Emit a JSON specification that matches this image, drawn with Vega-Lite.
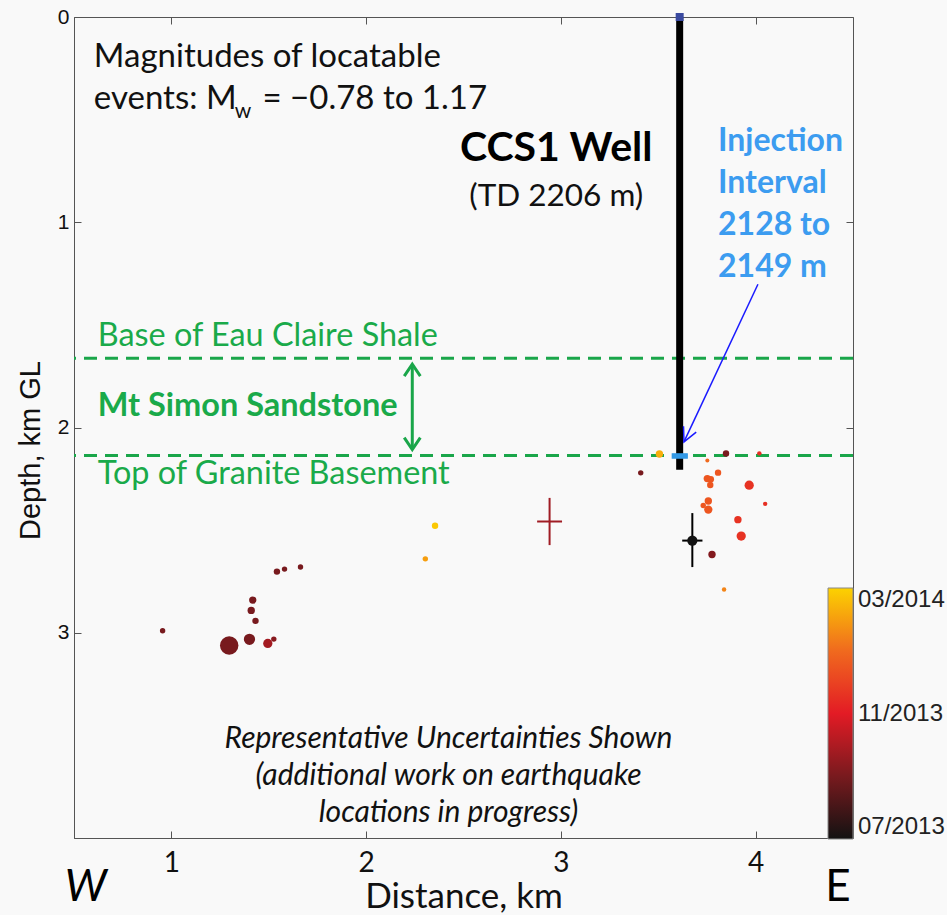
{
  "$schema": "https://vega.github.io/schema/vega-lite/v6.json",
  "width": 779,
  "height": 821,
  "autosize": {"type": "none"},
  "padding": {"left": 74, "top": 17, "right": 94, "bottom": 77},
  "background": "#f9f9f9",
  "config": {
    "view": {"stroke": "#555555", "strokeWidth": 1},
    "axis": {"grid": false, "domainColor": "#555555", "tickColor": "#555555", "labelColor": "#111111", "titleColor": "#111111"}
  },
  "resolve": {"axis": {"x": "independent", "y": "independent"}},
  "layer": [
    {
      "layer": [
        {
          "data": {"values": [{"depth": 1.663, "name": "Base of Eau Claire Shale"}, {"depth": 2.137, "name": "Top of Granite Basement"}]},
          "mark": {"type": "rule", "color": "#1aa64a", "strokeWidth": 3, "strokeDash": [13, 8]},
          "encoding": {
            "y": {"field": "depth", "type": "quantitative", "scale": {"domain": [0, 4], "reverse": true, "nice": false, "zero": false},
              "axis": {"orient": "left", "values": [0, 1, 2, 3], "format": "d", "tickSize": -7, "labelPadding": 12, "labelFont": "Liberation Sans", "labelFontSize": 21,
                "title": "Depth, km GL", "titleFont": "Liberation Sans", "titleFontSize": 29, "titleFontWeight": "normal", "titlePadding": 12, "titleY": 433}}
          }
        },
        {
          "data": {"values": [{"x": 3.61, "y": 0, "y2": 2.206}]},
          "mark": {"type": "rule", "color": "#000000", "strokeWidth": 7},
          "encoding": {
            "x": {"field": "x", "type": "quantitative", "scale": {"domain": [0.5, 4.5], "nice": false, "zero": false},
              "axis": {"orient": "bottom", "values": [1, 2, 3, 4], "format": "d", "tickSize": -7, "labelPadding": 18, "labelFont": "Lato", "labelFontSize": 28,
                "title": "Distance, km", "titleFont": "Lato", "titleFontSize": 35, "titleFontWeight": "normal", "titlePadding": 2}},
            "y": {"field": "y", "type": "quantitative"},
            "y2": {"field": "y2"}
          }
        },
        {
          "data": {"values": [{"x": 3.61, "y": 0}]},
          "mark": {"type": "point", "shape": "square", "filled": true, "color": "#3a4aa0", "size": 64, "opacity": 1},
          "encoding": {"x": {"field": "x", "type": "quantitative"}, "y": {"field": "y", "type": "quantitative"}}
        },
        {
          "data": {"values": [{"x": 3.572, "x2": 3.649, "top": 2.128, "bottom": 2.149}]},
          "mark": {"type": "rect", "color": "#3399e6", "stroke": "#3399e6", "strokeWidth": 1.2},
          "encoding": {"x": {"field": "x", "type": "quantitative"}, "x2": {"field": "x2"}, "y": {"field": "top", "type": "quantitative"}, "y2": {"field": "bottom"}}
        },
        {
          "data": {"values": [{"x": 2.237, "y": 1.70, "y2": 2.10}]},
          "mark": {"type": "rule", "color": "#1aa64a", "strokeWidth": 3},
          "encoding": {"x": {"field": "x", "type": "quantitative"}, "y": {"field": "y", "type": "quantitative"}, "y2": {"field": "y2"}}
        },
        {
          "data": {"values": [{"x": 2.237, "y": 1.691}]},
          "mark": {"type": "point", "shape": "M-0.67,1L0,0L0.67,1", "filled": false, "color": "#1aa64a", "strokeWidth": 3, "size": 576, "opacity": 1},
          "encoding": {"x": {"field": "x", "type": "quantitative"}, "y": {"field": "y", "type": "quantitative"}}
        },
        {
          "data": {"values": [{"x": 2.237, "y": 2.108}]},
          "mark": {"type": "point", "shape": "M-0.67,-1L0,0L0.67,-1", "filled": false, "color": "#1aa64a", "strokeWidth": 3, "size": 576, "opacity": 1},
          "encoding": {"x": {"field": "x", "type": "quantitative"}, "y": {"field": "y", "type": "quantitative"}}
        },
        {
          "data": {"values": [{"x": 4.012, "y": 1.302, "x2": 3.632, "y2": 2.07}]},
          "mark": {"type": "rule", "color": "#1a1aff", "strokeWidth": 1.5},
          "encoding": {"x": {"field": "x", "type": "quantitative"}, "y": {"field": "y", "type": "quantitative"}, "x2": {"field": "x2"}, "y2": {"field": "y2"}}
        },
        {
          "data": {"values": [{"x": 3.632, "y": 2.07}]},
          "mark": {"type": "point", "shape": "M-0.5,-1L0,0L0.5,-1", "filled": false, "color": "#1a1aff", "strokeWidth": 1.5, "size": 784, "angle": 25, "opacity": 1},
          "encoding": {"x": {"field": "x", "type": "quantitative"}, "y": {"field": "y", "type": "quantitative"}}
        },
        {
          "data": {"values": [
            {"x": 2.878, "x2": 3.006, "y": 2.458, "y2": 2.458},
            {"x": 2.942, "x2": 2.942, "y": 2.343, "y2": 2.573}
          ]},
          "mark": {"type": "rule", "color": "#a01c24", "strokeWidth": 2},
          "encoding": {"x": {"field": "x", "type": "quantitative"}, "y": {"field": "y", "type": "quantitative"}, "x2": {"field": "x2"}, "y2": {"field": "y2"}}
        },
        {
          "data": {"values": [
            {"x": 3.623, "x2": 3.727, "y": 2.551, "y2": 2.551},
            {"x": 3.675, "x2": 3.675, "y": 2.417, "y2": 2.680}
          ]},
          "mark": {"type": "rule", "color": "#000000", "strokeWidth": 2},
          "encoding": {"x": {"field": "x", "type": "quantitative"}, "y": {"field": "y", "type": "quantitative"}, "x2": {"field": "x2"}, "y2": {"field": "y2"}}
        },
        {
          "data": {"values": [
            {"x": 0.955, "y": 2.990, "month": 2, "mag": -0.70},
            {"x": 1.297, "y": 3.062, "month": 2, "mag": 1.17},
            {"x": 1.401, "y": 3.032, "month": 2, "mag": -0.11},
            {"x": 1.495, "y": 3.052, "month": 2.8, "mag": -0.36},
            {"x": 1.526, "y": 3.031, "month": 2.3, "mag": -0.70},
            {"x": 1.432, "y": 2.942, "month": 2, "mag": -0.63},
            {"x": 1.410, "y": 2.891, "month": 2, "mag": -0.55},
            {"x": 1.418, "y": 2.841, "month": 2, "mag": -0.55},
            {"x": 1.542, "y": 2.702, "month": 2, "mag": -0.63},
            {"x": 1.581, "y": 2.690, "month": 2, "mag": -0.70},
            {"x": 1.663, "y": 2.680, "month": 2, "mag": -0.70},
            {"x": 2.354, "y": 2.479, "month": 7.8, "mag": -0.63},
            {"x": 2.304, "y": 2.640, "month": 7, "mag": -0.70},
            {"x": 3.506, "y": 2.129, "month": 7.3, "mag": -0.55},
            {"x": 3.848, "y": 2.127, "month": 2, "mag": -0.63},
            {"x": 4.019, "y": 2.126, "month": 4.5, "mag": -0.76},
            {"x": 3.752, "y": 2.161, "month": 6, "mag": -0.78},
            {"x": 3.410, "y": 2.221, "month": 2, "mag": -0.70},
            {"x": 3.807, "y": 2.220, "month": 5.5, "mag": -0.63},
            {"x": 3.752, "y": 2.249, "month": 5.5, "mag": -0.55},
            {"x": 3.770, "y": 2.252, "month": 5.5, "mag": -0.63},
            {"x": 3.767, "y": 2.280, "month": 5.5, "mag": -0.63},
            {"x": 3.967, "y": 2.281, "month": 4.6, "mag": -0.36},
            {"x": 4.049, "y": 2.372, "month": 4.5, "mag": -0.76},
            {"x": 3.757, "y": 2.358, "month": 5.5, "mag": -0.55},
            {"x": 3.731, "y": 2.380, "month": 5.5, "mag": -0.70},
            {"x": 3.757, "y": 2.400, "month": 5.5, "mag": -0.46},
            {"x": 3.909, "y": 2.449, "month": 4.6, "mag": -0.55},
            {"x": 3.926, "y": 2.529, "month": 4.6, "mag": -0.36},
            {"x": 3.776, "y": 2.619, "month": 2.2, "mag": -0.55},
            {"x": 3.838, "y": 2.789, "month": 6.5, "mag": -0.76},
            {"x": 3.675, "y": 2.551, "month": 0, "mag": -0.24}
          ]},
          "mark": {"type": "circle", "opacity": 1},
          "encoding": {
            "x": {"field": "x", "type": "quantitative"},
            "y": {"field": "y", "type": "quantitative"},
            "size": {"field": "mag", "type": "quantitative", "scale": {"domain": [-0.78, 1.17], "range": [16, 340], "zero": false}, "legend": null},
            "color": {"field": "month", "type": "quantitative",
              "scale": {"domain": [0, 2, 4, 6, 8], "range": ["#121212", "#781a1e", "#e31b25", "#f06a1e", "#fcd200"], "interpolate": "rgb"},
              "legend": {"orient": "none", "legendX": 754, "legendY": 571, "direction": "vertical", "gradientLength": 251, "gradientThickness": 25,
                "gradientStrokeColor": "#888888", "gradientStrokeWidth": 1, "title": null, "values": [0, 4, 8],
                "labelExpr": "datum.value == 0 ? '07/2013' : datum.value == 4 ? '11/2013' : '03/2014'",
                "labelFont": "Liberation Sans", "labelFontSize": 24, "labelColor": "#222222", "labelOffset": 5, "tickCount": 3}}
          }
        },
        {
          "data": {"values": [
            {"x": 0.602, "y": 0.195, "t": "Magnitudes of locatable"},
            {"x": 0.602, "y": 0.399, "t": "events: M"},
            {"x": 1.468, "y": 0.399, "t": "= \u22120.78 to 1.17"}
          ]},
          "mark": {"type": "text", "align": "left", "baseline": "middle", "font": "Lato", "fontSize": 33, "color": "#111111"},
          "encoding": {"x": {"field": "x", "type": "quantitative"}, "y": {"field": "y", "type": "quantitative"}, "text": {"field": "t"}}
        },
        {
          "data": {"values": [{"x": 1.325, "y": 0.465, "t": "w"}]},
          "mark": {"type": "text", "align": "left", "baseline": "middle", "font": "Lato", "fontSize": 21, "color": "#111111"},
          "encoding": {"x": {"field": "x", "type": "quantitative"}, "y": {"field": "y", "type": "quantitative"}, "text": {"field": "t"}}
        },
        {
          "data": {"values": [{"x": 2.976, "y": 0.645, "t": "CCS1 Well"}]},
          "mark": {"type": "text", "align": "center", "baseline": "middle", "font": "Lato", "fontSize": 41, "fontWeight": "bold", "color": "#000000"},
          "encoding": {"x": {"field": "x", "type": "quantitative"}, "y": {"field": "y", "type": "quantitative"}, "text": {"field": "t"}}
        },
        {
          "data": {"values": [{"x": 2.976, "y": 0.878, "t": "(TD 2206 m)"}]},
          "mark": {"type": "text", "align": "center", "baseline": "middle", "font": "Lato", "fontSize": 31.5, "color": "#111111"},
          "encoding": {"x": {"field": "x", "type": "quantitative"}, "y": {"field": "y", "type": "quantitative"}, "text": {"field": "t"}}
        },
        {
          "data": {"values": [
            {"x": 3.807, "y": 0.606, "t": "Injection"},
            {"x": 3.807, "y": 0.810, "t": "Interval"},
            {"x": 3.807, "y": 1.015, "t": "2128 to"},
            {"x": 3.807, "y": 1.219, "t": "2149 m"}
          ]},
          "mark": {"type": "text", "align": "left", "baseline": "middle", "font": "Lato", "fontSize": 32, "fontWeight": "bold", "color": "#3c9cf0"},
          "encoding": {"x": {"field": "x", "type": "quantitative"}, "y": {"field": "y", "type": "quantitative"}, "text": {"field": "t"}}
        },
        {
          "data": {"values": [
            {"x": 0.622, "y": 1.555, "t": "Base of Eau Claire Shale"},
            {"x": 0.622, "y": 2.226, "t": "Top of Granite Basement"}
          ]},
          "mark": {"type": "text", "align": "left", "baseline": "middle", "font": "Lato", "fontSize": 32.4, "color": "#1aaa4a"},
          "encoding": {"x": {"field": "x", "type": "quantitative"}, "y": {"field": "y", "type": "quantitative"}, "text": {"field": "t"}}
        },
        {
          "data": {"values": [{"x": 0.622, "y": 1.895, "t": "Mt Simon Sandstone"}]},
          "mark": {"type": "text", "align": "left", "baseline": "middle", "font": "Lato", "fontSize": 32.5, "fontWeight": "bold", "color": "#1aaa4a"},
          "encoding": {"x": {"field": "x", "type": "quantitative"}, "y": {"field": "y", "type": "quantitative"}, "text": {"field": "t"}}
        },
        {
          "data": {"values": [
            {"x": 2.423, "y": 3.516, "t": "Representative Uncertainties Shown"},
            {"x": 2.423, "y": 3.696, "t": "(additional work on earthquake"},
            {"x": 2.423, "y": 3.876, "t": "locations in progress)"}
          ]},
          "mark": {"type": "text", "align": "center", "baseline": "middle", "font": "Lato", "fontSize": 30, "fontStyle": "italic", "color": "#111111"},
          "encoding": {"x": {"field": "x", "type": "quantitative"}, "y": {"field": "y", "type": "quantitative"}, "text": {"field": "t"}}
        },
        {
          "data": {"values": [{"x": 0.561, "y": 4.245, "t": "W"}]},
          "mark": {"type": "text", "align": "center", "baseline": "middle", "font": "Lato", "fontSize": 44, "fontStyle": "italic", "color": "#000000", "clip": false},
          "encoding": {"x": {"field": "x", "type": "quantitative"}, "y": {"field": "y", "type": "quantitative"}, "text": {"field": "t"}}
        },
        {
          "data": {"values": [{"x": 4.423, "y": 4.245, "t": "E"}]},
          "mark": {"type": "text", "align": "center", "baseline": "middle", "font": "Lato", "fontSize": 44, "color": "#000000", "clip": false},
          "encoding": {"x": {"field": "x", "type": "quantitative"}, "y": {"field": "y", "type": "quantitative"}, "text": {"field": "t"}}
        }
      ]
    },
    {
      "data": {"values": [{"x": 1, "y": 1}]},
      "mark": {"type": "point", "opacity": 0},
      "encoding": {
        "x": {"field": "x", "type": "quantitative", "scale": {"domain": [0.5, 4.5], "nice": false, "zero": false},
          "axis": {"orient": "top", "values": [1, 2, 3, 4], "tickSize": -7, "labels": false, "title": null, "domain": false}},
        "y": {"field": "y", "type": "quantitative", "scale": {"domain": [0, 4], "reverse": true, "nice": false, "zero": false},
          "axis": {"orient": "right", "values": [0, 1, 2, 3], "tickSize": -7, "labels": false, "title": null, "domain": false}}
      }
    }
  ]
}
